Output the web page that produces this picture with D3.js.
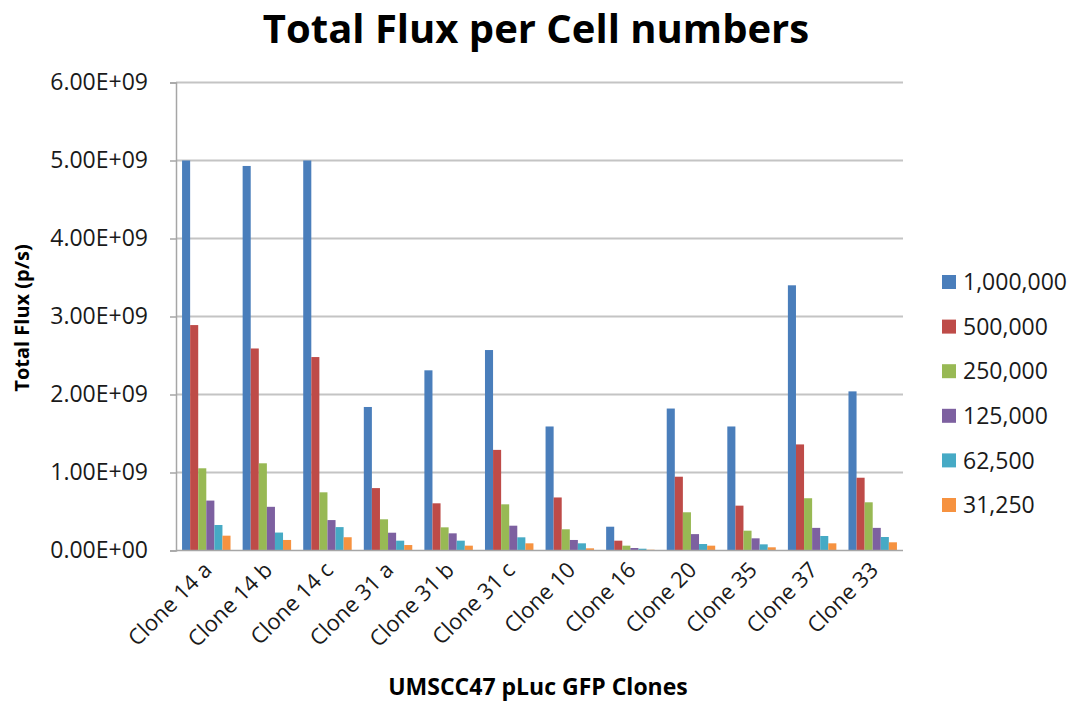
<!DOCTYPE html>
<html>
<head>
<meta charset="utf-8">
<script src="https://cdn.jsdelivr.net/npm/d3@7"></script>
<style>
  html, body { margin: 0; padding: 0; background: #ffffff; }
  svg { display: block; font-family: "Open Sans", Lato, "DejaVu Sans", sans-serif; }
</style>
</head>
<body>
<svg id="chart" width="1079" height="702"></svg>
<script>
// Clone names along the x axis
const clones = ["Clone 14 a", "Clone 14 b", "Clone 14 c", "Clone 31 a", "Clone 31 b", "Clone 31 c",
                "Clone 10", "Clone 16", "Clone 20", "Clone 35", "Clone 37", "Clone 33"];

// Cell numbers plated (one series each)
const cellNumbers = ["1,000,000", "500,000", "250,000", "125,000", "62,500", "31,250"];

// Total flux (p/s) per clone for each cell number
const flux1000000 = [5.00e9, 4.93e9, 5.00e9, 1.84e9, 2.31e9, 2.57e9, 1.59e9, 0.305e9, 1.82e9, 1.59e9, 3.40e9, 2.04e9];
const flux500000  = [2.89e9, 2.59e9, 2.48e9, 0.80e9, 0.605e9, 1.29e9, 0.68e9, 0.126e9, 0.946e9, 0.575e9, 1.36e9, 0.933e9];
const flux250000  = [1.054e9, 1.118e9, 0.746e9, 0.40e9, 0.297e9, 0.592e9, 0.272e9, 0.062e9, 0.49e9, 0.254e9, 0.67e9, 0.618e9];
const flux125000  = [0.64e9, 0.56e9, 0.39e9, 0.228e9, 0.22e9, 0.318e9, 0.135e9, 0.032e9, 0.21e9, 0.156e9, 0.29e9, 0.29e9];
const flux62500   = [0.327e9, 0.23e9, 0.30e9, 0.126e9, 0.126e9, 0.169e9, 0.092e9, 0.023e9, 0.083e9, 0.079e9, 0.186e9, 0.173e9];
const flux31250   = [0.19e9, 0.135e9, 0.17e9, 0.07e9, 0.062e9, 0.092e9, 0.028e9, 0.01e9, 0.062e9, 0.041e9, 0.092e9, 0.105e9];

// Y axis tick labels
const yTickValues = [0, 1e9, 2e9, 3e9, 4e9, 5e9, 6e9];
const yTickLabels = ["0.00E+00", "1.00E+09", "2.00E+09", "3.00E+09", "4.00E+09", "5.00E+09", "6.00E+09"];

const seriesValues = [flux1000000, flux500000, flux250000, flux125000, flux62500, flux31250];
const colors = ["#4a7ebb", "#be4b48", "#98b954", "#7d60a0", "#46aac5", "#f69240"];

const svg = d3.select("#chart");
const plot = { left: 176, right: 903, top: 82.5, bottom: 550.5 };

const x0 = d3.scaleBand().domain(clones).range([plot.left, plot.right]).paddingInner(0.2).paddingOuter(0.1);
const x1 = d3.scaleBand().domain(cellNumbers).range([0, x0.bandwidth()]);
const y = d3.scaleLinear().domain([0, 6e9]).range([plot.bottom, plot.top]);

// Horizontal gridlines
svg.append("g")
  .selectAll("line")
  .data(yTickValues.slice(1))
  .join("line")
  .attr("x1", plot.left).attr("x2", plot.right)
  .attr("y1", d => y(d)).attr("y2", d => y(d))
  .attr("stroke", "#c4c4c4").attr("stroke-width", 2);

// Y axis
const yAxis = svg.append("g")
  .attr("transform", `translate(${plot.left},0)`)
  .call(d3.axisLeft(y).tickValues(yTickValues).tickFormat((d, i) => yTickLabels[i]).tickSize(6).tickPadding(22));
yAxis.select(".domain").attr("stroke", "#a6a6a6").attr("stroke-width", 1.5);
yAxis.selectAll(".tick line").attr("stroke", "#a6a6a6").attr("stroke-width", 1.5);
yAxis.selectAll(".tick text")
  .attr("fill", "#1a1a1a")
  .style("font-size", "23px")
  .style("font-family", "'Open Sans', sans-serif");

// Bars
const groups = svg.append("g")
  .selectAll("g")
  .data(clones)
  .join("g")
  .attr("transform", d => `translate(${x0(d)},0)`);

groups.selectAll("rect")
  .data((clone, ci) => cellNumbers.map((c, si) => ({ series: c, si, value: seriesValues[si][ci] })))
  .join("rect")
  .attr("x", d => x1(d.series))
  .attr("width", x1.bandwidth())
  .attr("y", d => y(d.value))
  .attr("height", d => y(0) - y(d.value))
  .attr("fill", d => colors[d.si]);

// X axis baseline
svg.append("line")
  .attr("x1", plot.left).attr("x2", plot.right)
  .attr("y1", plot.bottom).attr("y2", plot.bottom)
  .attr("stroke", "#a6a6a6").attr("stroke-width", 1.5);

// X category labels, rotated
svg.append("g")
  .selectAll("text")
  .data(clones)
  .join("text")
  .attr("transform", d => `translate(${x0(d) + x0.bandwidth() / 2 - 4},${plot.bottom + 10}) rotate(-45)`)
  .attr("text-anchor", "end")
  .attr("dy", "0.7em")
  .attr("fill", "#1a1a1a")
  .style("font-size", "22px")
  .text(d => d);

// Title
svg.append("text")
  .attr("x", 536).attr("y", 43)
  .attr("text-anchor", "middle")
  .attr("fill", "#000")
  .style("font-size", "40px")
  .style("font-weight", "bold")
  .text("Total Flux per Cell numbers");

// Axis titles
svg.append("text")
  .attr("transform", "translate(29,318) rotate(-90)")
  .attr("text-anchor", "middle")
  .attr("fill", "#000")
  .style("font-size", "20px")
  .style("font-weight", "bold")
  .text("Total Flux (p/s)");

svg.append("text")
  .attr("x", 538).attr("y", 695)
  .attr("text-anchor", "middle")
  .attr("fill", "#000")
  .style("font-size", "23px")
  .style("font-weight", "bold")
  .text("UMSCC47 pLuc GFP Clones");

// Legend
const legend = svg.append("g")
  .selectAll("g")
  .data(cellNumbers)
  .join("g")
  .attr("transform", (d, i) => `translate(942,${282 + i * 44.6})`);

legend.append("rect")
  .attr("x", 0).attr("y", -7)
  .attr("width", 14).attr("height", 14)
  .attr("fill", (d, i) => colors[i]);

legend.append("text")
  .attr("x", 21).attr("y", 0)
  .attr("dy", "0.36em")
  .attr("fill", "#1a1a1a")
  .style("font-size", "23px")
  .text(d => d);
</script>
</body>
</html>
